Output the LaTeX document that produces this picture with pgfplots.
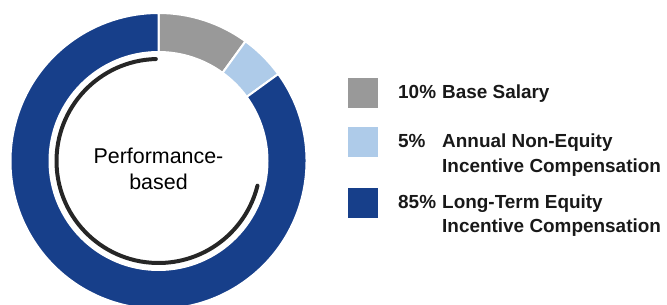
\documentclass[border=0pt]{standalone}
\usepackage{pgfplots}
\pgfplotsset{compat=1.18}
\usepackage{fontspec}
\setmainfont{Liberation Sans}
\definecolor{basegray}{HTML}{999999}
\definecolor{lightblue}{HTML}{AECBE9}
\definecolor{darkblue}{HTML}{173F8A}
\begin{document}
\begin{tikzpicture}
\begin{axis}[
  scale only axis, width=667bp, height=305bp,
  xmin=0, xmax=667, ymin=0, ymax=305,
  hide axis, clip=true,
]
\def\cx{158.5}\def\cy{144}
\gdef\angA{90}
\foreach \v/\c in {10/basegray,5/lightblue,85/darkblue}{
  \pgfmathsetmacro\angB{\angA-3.6*\v}
  \pgfmathsetmacro\angC{\angB+180}
  \edef\temp{\noexpand\filldraw[fill=\c, draw=white, line width=2bp]
    (axis cs:\cx,\cy) ++(\angA:148bp)
    arc[start angle=\angA, end angle=\angB, radius=148bp]
    -- ++(\angC:39bp)
    arc[start angle=\angB, end angle=\angA, radius=109bp] -- cycle;}
  \temp
  \xdef\angA{\angB}
}
\draw[line width=4bp, color=black!85, line cap=round]
  (axis cs:\cx,\cy) ++(91.5:102bp) arc[start angle=91.5, end angle=346, radius=102bp];
\node[font=\fontsize{21.5}{26}\selectfont, align=center] at (axis cs:\cx,136) {Performance-\\based};
% legend
\fill[basegray] (axis cs:348,227) rectangle (axis cs:378,197);
\fill[lightblue] (axis cs:348,178) rectangle (axis cs:378,148);
\fill[darkblue] (axis cs:348,117) rectangle (axis cs:378,87);
\begin{scope}[every node/.style={anchor=base west, inner sep=0pt, font=\fontsize{19}{23}\selectfont\bfseries, text=black!90}]
\node at (axis cs:398,206) {10\%};
\node at (axis cs:442,206) {Base Salary};
\node at (axis cs:398,157) {5\%};
\node at (axis cs:442,157) {Annual Non-Equity};
\node at (axis cs:442,132) {Incentive Compensation};
\node at (axis cs:398,96) {85\%};
\node at (axis cs:442,96) {Long-Term Equity};
\node at (axis cs:442,72) {Incentive Compensation};
\end{scope}
\end{axis}
\pgfresetboundingbox
\path (current axis.south west) rectangle (current axis.north east);
\end{tikzpicture}
\end{document}
